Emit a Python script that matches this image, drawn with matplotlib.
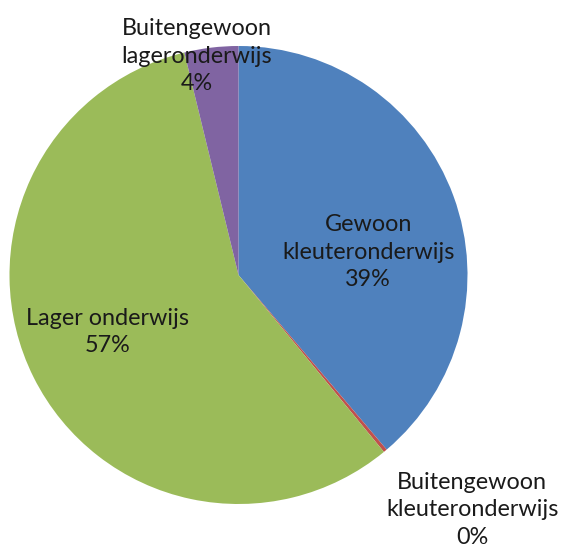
import matplotlib
matplotlib.use("Agg")
import matplotlib.pyplot as plt

# slices clockwise from 12 o'clock
categories = ["Gewoon\nkleuteronderwijs", "Buitengewoon\nkleuteronderwijs",
              "Lager onderwijs", "Buitengewoon\nlageronderwijs"]
values = [38.8, 0.25, 57.15, 3.8]
colors = ["#4F81BD", "#C0504D", "#9BBB59", "#8064A2"]
# label centres in units of the pie radius (Excel best fit placement)
label_pos = [(0.566, 0.100), (1.020, -1.025), (-0.570, -0.250), (-0.181, 0.955)]

W, H = 565, 548
cx, cy, r = 238.5, 275, 229

fig = plt.figure(figsize=(W / 100, H / 100), dpi=100)
ax = fig.add_axes([0, 0, 1, 1])
ax.pie(values, colors=colors, startangle=90, counterclock=False,
       radius=1, wedgeprops=dict(linewidth=0))
ax.set_xlim(-cx / r, (W - cx) / r)
ax.set_ylim(-(H - cy) / r, cy / r)
ax.set_aspect("equal")
ax.axis("off")

total = sum(values)
for name, v, (x, y) in zip(categories, values, label_pos):
    ax.text(x, y, f"{name}\n{round(v / total * 100):.0f}%", ha="center", va="center",
            multialignment="center", fontsize=16.8, family="Lato", color="#1a1a1a",
            linespacing=1.38)

fig.savefig("out.png", dpi=100)
